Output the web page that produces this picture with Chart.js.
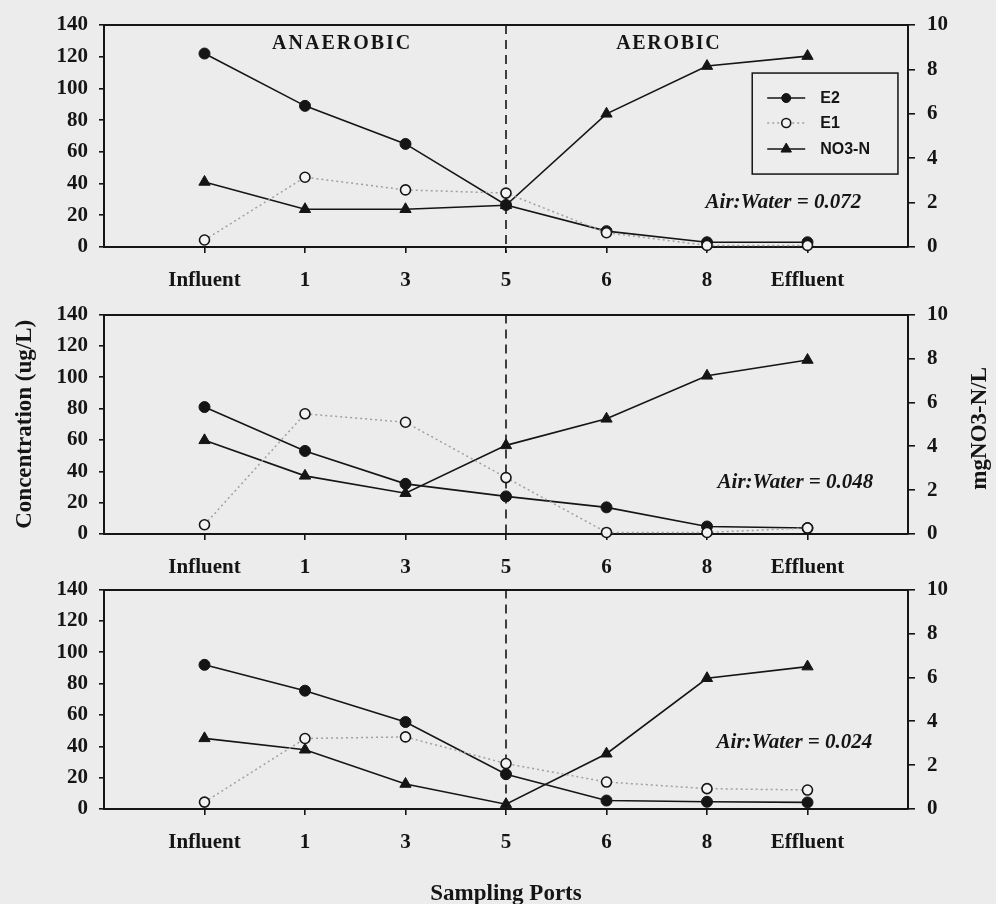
<!DOCTYPE html>
<html><head><meta charset="utf-8">
<script src="https://cdn.jsdelivr.net/npm/chart.js@4.4.0/dist/chart.umd.min.js"></script>
<style>
html,body{margin:0;padding:0;background:#ececec;}
body{width:996px;height:904px;position:relative;overflow:hidden;}
canvas{position:absolute;left:0;}
</style></head><body>
<canvas id="c1" width="996" height="300" style="top:0px"></canvas>
<canvas id="c2" width="996" height="300" style="top:290px"></canvas>
<canvas id="c3" width="996" height="339" style="top:565px"></canvas>
<script>
// ---------- data ----------
const ports = ['Influent', '1', '3', '5', '6', '8', 'Effluent'];
const concTicks = [0, 20, 40, 60, 80, 100, 120, 140];
const no3Ticks = [0, 2, 4, 6, 8, 10];
const seriesNames = ['E2', 'E1', 'NO3-N'];
const ratioLabels = ['Air:Water = 0.072', 'Air:Water = 0.048', 'Air:Water = 0.024'];
const zoneLabels = ['ANAEROBIC', 'AEROBIC'];
const boundaryPort = '5';
const yTitle = 'Concentration (ug/L)';
const y2Title = 'mgNO3-N/L';
const xTitle = 'Sampling Ports';

// Air:Water = 0.072
const e2_072 = [122, 89, 65, 26.5, 10, 3, 3];
const e1_072 = [4.4, 44, 36, 34, 9, 1, 1];
const no3_072 = [2.93, 1.7, 1.7, 1.88, 6.0, 8.15, 8.6];
// Air:Water = 0.048
const e2_048 = [81, 53, 32, 24, 17, 4.8, 3.8];
const e1_048 = [5.9, 76.7, 71.3, 36, 1, 1, 3.8];
const no3_048 = [4.27, 2.65, 1.86, 4.04, 5.25, 7.21, 7.93];
// Air:Water = 0.024
const e2_024 = [92, 75.5, 55.5, 22.2, 5.4, 4.6, 4.2];
const e1_024 = [4.4, 45, 46, 29, 17.2, 13, 12.1];
const no3_024 = [3.22, 2.7, 1.14, 0.22, 2.52, 5.96, 6.49];

// ---------- styles ----------
const INK = '#151515';
const SERIF = '"Liberation Serif", "Times New Roman", serif';
const SANS = '"Liberation Sans", Arial, sans-serif';

function pts(arr) { return arr.map((v, i) => ({ x: i, y: v })); }

function makeDatasets(e2, e1, no3) {
  return [
    { label: seriesNames[0], data: pts(e2), yAxisID: 'y', order: 1,
      borderColor: INK, borderWidth: 1.6, pointStyle: 'circle', pointRadius: 5.5,
      pointBackgroundColor: INK, pointBorderColor: INK, pointBorderWidth: 1, clip: false },
    { label: seriesNames[1], data: pts(e1), yAxisID: 'y', order: 0,
      borderColor: '#a0a0a0', borderWidth: 1.5, borderDash: [2, 3], pointStyle: 'circle', pointRadius: 5,
      pointBackgroundColor: '#f3f3f3', pointBorderColor: INK, pointBorderWidth: 1.6, clip: false },
    { label: seriesNames[2], data: pts(no3), yAxisID: 'y2', order: 2,
      borderColor: INK, borderWidth: 1.6, pointStyle: 'triangle', pointRadius: 6.5,
      pointBackgroundColor: INK, pointBorderColor: INK, pointBorderWidth: 1, clip: false }
  ];
}

// ---------- plugins ----------
const boundaryPlugin = {
  id: 'boundary',
  beforeDatasetsDraw(chart) {
    const ctx = chart.ctx, a = chart.chartArea;
    const x = chart.scales.x.getPixelForValue(ports.indexOf(boundaryPort));
    ctx.save();
    ctx.strokeStyle = INK; ctx.lineWidth = 1.6; ctx.setLineDash([9, 6]);
    ctx.beginPath(); ctx.moveTo(x, a.top); ctx.lineTo(x, a.bottom + 6); ctx.stroke();
    ctx.restore();
  }
};

const notesPlugin = {
  id: 'notes',
  afterDatasetsDraw(chart, args, opts) {
    const ctx = chart.ctx;
    (opts.items || []).forEach(n => {
      const x = chart.scales.x.getPixelForValue(n.x);
      const y = chart.scales.y.getPixelForValue(n.y);
      ctx.save();
      ctx.font = n.font; ctx.fillStyle = INK;
      ctx.letterSpacing = n.spacing || '0px';
      ctx.textAlign = 'center'; ctx.textBaseline = 'middle';
      ctx.fillText(n.text, x, y);
      ctx.restore();
    });
  }
};

// right-hand axis title, reading bottom-to-top like the original
const sideTitlePlugin = {
  id: 'sideTitle',
  afterDraw(chart, args, opts) {
    if (!opts.text) return;
    const ctx = chart.ctx, s = chart.scales.y2;
    ctx.save();
    ctx.translate(s.right - opts.offset, (s.top + s.bottom) / 2 + 4);
    ctx.rotate(-Math.PI / 2);
    ctx.font = 'bold 23px ' + SERIF; ctx.fillStyle = INK;
    ctx.textAlign = 'center'; ctx.textBaseline = 'middle';
    ctx.fillText(opts.text, 0, 0);
    ctx.restore();
  }
};

const boxLegendPlugin = {
  id: 'boxLegend',
  afterDatasetsDraw(chart, args, opts) {
    if (!opts.show) return;
    const ctx = chart.ctx, sx = chart.scales.x, sy = chart.scales.y;
    const L = sx.getPixelForValue(opts.x1), R = sx.getPixelForValue(opts.x2);
    const T = sy.getPixelForValue(opts.y1), B = sy.getPixelForValue(opts.y2);
    ctx.save();
    ctx.fillStyle = '#ededed'; ctx.fillRect(L, T, R - L, B - T);
    ctx.strokeStyle = INK; ctx.lineWidth = 1.5; ctx.strokeRect(L, T, R - L, B - T);
    const rows = [25, 50, 76];
    chart.data.datasets.forEach((ds, i) => {
      const y = T + rows[i];
      ctx.save();
      ctx.strokeStyle = ds.borderColor; ctx.lineWidth = ds.borderWidth;
      ctx.setLineDash(ds.borderDash || []);
      ctx.beginPath(); ctx.moveTo(L + 15, y); ctx.lineTo(L + 53, y); ctx.stroke();
      ctx.restore();
      ctx.fillStyle = ds.pointBackgroundColor; ctx.strokeStyle = ds.pointBorderColor;
      ctx.lineWidth = ds.pointBorderWidth;
      Chart.helpers.drawPoint(ctx, { pointStyle: ds.pointStyle, radius: ds.pointStyle === 'triangle' ? 6 : 4.5, rotation: 0, borderWidth: ds.pointBorderWidth }, L + 34, y);
      ctx.fillStyle = INK; ctx.font = 'bold 16px ' + SANS; ctx.textAlign = 'left'; ctx.textBaseline = 'middle';
      ctx.fillText(ds.label, L + 68, y + 1);
    });
    ctx.restore();
  }
};

// ---------- panel builder ----------
function makePanel(id, canvasTop, canvasH, areaTop, areaBottom, datasets, p) {
  const xH = canvasTop + canvasH - areaBottom;
  const tickFont = { family: SERIF, size: 21, weight: 'bold' };
  const gridCfg = { display: true, drawOnChartArea: false, drawTicks: true, color: INK, lineWidth: 1.6 };
  return new Chart(document.getElementById(id), {
    type: 'line',
    data: { datasets },
    plugins: [boundaryPlugin, notesPlugin, boxLegendPlugin, sideTitlePlugin],
    options: {
      responsive: false, animation: false, events: [],
      layout: { padding: { top: areaTop - canvasTop, left: 0, right: 0, bottom: 0 } },
      plugins: {
        legend: { display: false }, tooltip: { enabled: false },
        notes: { items: p.notes },
        boxLegend: p.legend || { show: false },
        sideTitle: p.yTitles ? { text: y2Title, offset: 16 } : { text: '' }
      },
      scales: {
        x: {
          type: 'linear', position: 'bottom', min: -1, max: 7,
          afterBuildTicks: s => { s.ticks = ports.map((_, i) => ({ value: i })); },
          afterFit: s => { s.height = xH; },
          ticks: { callback: v => ports[v], font: tickFont, color: INK, padding: 15, maxRotation: 0, autoSkip: false },
          grid: Object.assign({ tickLength: 6 }, gridCfg),
          border: { display: true, color: INK, width: 2 },
          title: p.xTitle ? { display: true, text: xTitle, color: INK,
            font: { family: SERIF, size: 23, weight: 'bold', lineHeight: 1 }, padding: { top: 0, bottom: -2 } } : { display: false }
        },
        xTop: {
          type: 'linear', position: 'top', min: -1, max: 7,
          ticks: { display: false }, grid: { display: false },
          border: { display: true, color: INK, width: 2 },
          afterFit: s => { s.height = 0; }
        },
        y: {
          type: 'linear', position: 'left', min: concTicks[0], max: concTicks[concTicks.length - 1],
          afterBuildTicks: s => { s.ticks = concTicks.map(v => ({ value: v })); },
          afterFit: s => { s.width = 104; },
          ticks: { font: tickFont, color: INK, padding: 11 },
          grid: Object.assign({ tickLength: 5 }, gridCfg),
          border: { display: true, color: INK, width: 2 },
          title: p.yTitles ? { display: true, text: yTitle, color: INK,
            font: { family: SERIF, size: 23, weight: 'bold', lineHeight: 1 }, padding: { top: 14, bottom: 0 } } : { display: false }
        },
        y2: {
          type: 'linear', position: 'right', min: no3Ticks[0], max: no3Ticks[no3Ticks.length - 1],
          afterBuildTicks: s => { s.ticks = no3Ticks.map(v => ({ value: v })); },
          afterFit: s => { s.width = 88; },
          ticks: { font: tickFont, color: INK, padding: 12 },
          grid: Object.assign({ tickLength: 7 }, gridCfg),
          border: { display: true, color: INK, width: 2 },
          title: { display: false }
        }
      }
    }
  });
}

const zoneFont = 'bold 20px ' + SERIF;
const ratioFont = 'italic bold 21px ' + SERIF;

makePanel('c1', 0, 300, 25, 247, makeDatasets(e2_072, e1_072, no3_072), {
  notes: [
    { text: zoneLabels[0], x: 1.37, y: 128, font: zoneFont, spacing: '2px' },
    { text: zoneLabels[1], x: 4.62, y: 128, font: zoneFont, spacing: '1.7px' },
    { text: ratioLabels[0], x: 5.76, y: 27.7, font: ratioFont }
  ],
  legend: { show: true, x1: 5.45, x2: 6.9, y1: 109.7, y2: 46 }
});
makePanel('c2', 290, 300, 313, 534, makeDatasets(e2_048, e1_048, no3_048), {
  notes: [{ text: ratioLabels[1], x: 5.88, y: 32.5, font: ratioFont }],
  yTitles: true
});
makePanel('c3', 565, 339, 587, 809, makeDatasets(e2_024, e1_024, no3_024), {
  notes: [{ text: ratioLabels[2], x: 5.87, y: 42.3, font: ratioFont }],
  xTitle: true
});
</script>
</body></html>
